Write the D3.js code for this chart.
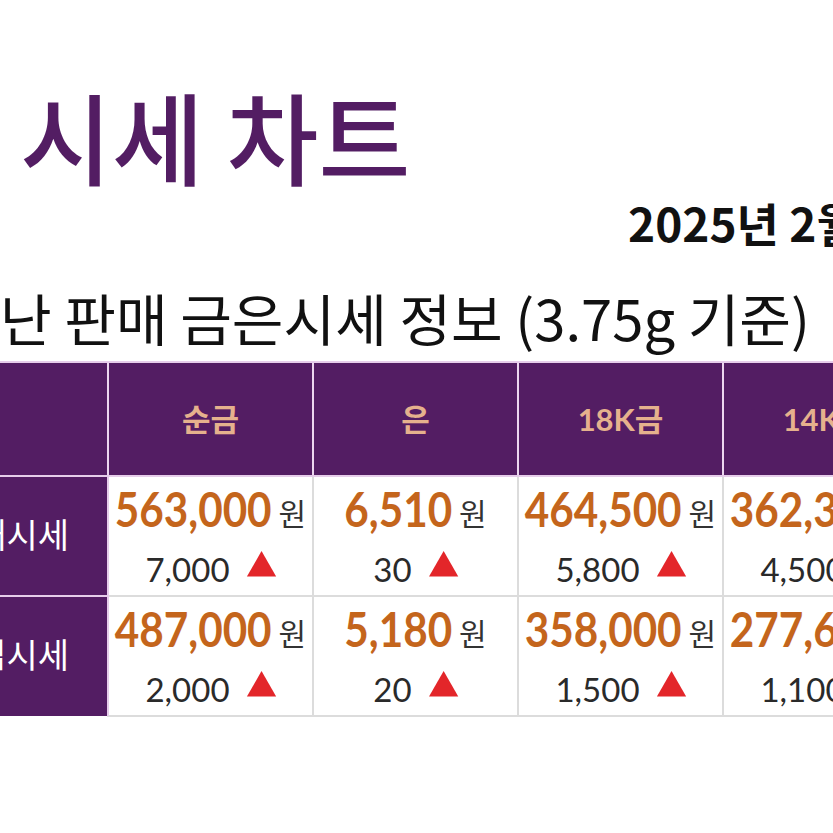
<!DOCTYPE html>
<html>
<head>
<meta charset="utf-8">
<script src="https://cdn.jsdelivr.net/npm/d3@7"></script>
<style>
  html, body { margin: 0; padding: 0; background: #fff; overflow: hidden; }
  svg { display: block; }
</style>
</head>
<body>
<script>
// data
var columns = ["순금", "은", "18K금", "14K금"];
var rowLabels = ["판매시세", "매입시세"];
var sellPrices = [563000, 6510, 464500, 362300];
var sellChanges = [7000, 30, 5800, 4500];
var buyPrices = [487000, 5180, 358000, 277600];
var buyChanges = [2000, 20, 1500, 1100];

var W = 833, H = 833;
var purple = "#531d63",
    orange = "#c4651c",
    peach = "#e5b18d";

var svg = d3.select("body").append("svg")
    .attr("width", W)
    .attr("height", H);

// titles
svg.append("text")
    .attr("x", 20).attr("y", 178)
    .attr("font-family", "'Noto Sans CJK KR'")
    .attr("font-weight", 500)
    .attr("font-size", 100)
    .attr("fill", purple)
    .text("시세 차트");

svg.append("text")
    .attr("x", 628).attr("y", 242)
    .attr("font-family", "'Noto Sans CJK KR'")
    .attr("font-weight", 700)
    .attr("font-size", 46)
    .attr("fill", "#111")
    .text("2025년 2월");

svg.append("text")
    .attr("x", 0).attr("y", 341)
    .attr("font-family", "'Noto Sans CJK KR'")
    .attr("font-weight", 400)
    .attr("font-size", 56)
    .attr("fill", "#111")
    .attr("textLength", 810)
    .attr("lengthAdjust", "spacingAndGlyphs")
    .text("난 판매 금은시세 정보 (3.75g 기준)");

// table scales
var x = d3.scaleBand().domain(columns).range([108, 108 + 205 * columns.length]);
var headTop = 363, headBottom = 476;
var y = d3.scaleBand().domain(rowLabels).range([headBottom, 716]);

var rows = [
    {label: rowLabels[0], prices: sellPrices, changes: sellChanges},
    {label: rowLabels[1], prices: buyPrices, changes: buyChanges}
];

// header background
svg.append("rect")
    .attr("x", 0).attr("y", headTop)
    .attr("width", W).attr("height", headBottom - headTop)
    .attr("fill", purple);
svg.append("line")
    .attr("x1", 0).attr("x2", W)
    .attr("y1", headTop - 1).attr("y2", headTop - 1)
    .attr("stroke", "#e6cdea").attr("stroke-width", 2);

// left label column
svg.append("rect")
    .attr("x", 0).attr("y", headBottom)
    .attr("width", x.range()[0]).attr("height", y.range()[1] - headBottom)
    .attr("fill", purple);

// body cell borders
rows.forEach(function(r) {
    svg.selectAll(null)
        .data(columns)
        .enter()
        .append("rect")
        .attr("x", function(d) { return x(d); })
        .attr("y", y(r.label))
        .attr("width", x.bandwidth())
        .attr("height", y.bandwidth())
        .attr("fill", "#fff")
        .attr("stroke", "#dcdcdc")
        .attr("stroke-width", 2);
});

// header separators
svg.selectAll(".hsep")
    .data(columns)
    .enter()
    .append("line")
    .attr("x1", function(d) { return x(d); })
    .attr("x2", function(d) { return x(d); })
    .attr("y1", headTop).attr("y2", headBottom)
    .attr("stroke", "#ecd6ef").attr("stroke-width", 2);
svg.append("line")
    .attr("x1", 0).attr("x2", W)
    .attr("y1", headBottom).attr("y2", headBottom)
    .attr("stroke", "#e6cdea").attr("stroke-width", 2);
svg.append("line")
    .attr("x1", 0).attr("x2", x.range()[0])
    .attr("y1", y(rowLabels[1])).attr("y2", y(rowLabels[1]))
    .attr("stroke", "#e6cdea").attr("stroke-width", 2);
svg.append("line")
    .attr("x1", x.range()[0]).attr("x2", x.range()[0])
    .attr("y1", headBottom).attr("y2", y.range()[1])
    .attr("stroke", "#e6cdea").attr("stroke-width", 2);

// header labels
svg.selectAll(".hlab")
    .data(columns)
    .enter()
    .append("text")
    .attr("x", function(d) { return x(d) + x.bandwidth() / 2; })
    .attr("y", (headTop + headBottom) / 2 + 11)
    .attr("text-anchor", "middle")
    .attr("font-family", "Lato, 'Noto Sans CJK KR'")
    .attr("font-weight", 700)
    .attr("font-size", 31)
    .attr("fill", peach)
    .text(function(d) { return d; });

// row labels
svg.selectAll(".rlab")
    .data(rowLabels)
    .enter()
    .append("text")
    .attr("x", 69)
    .attr("y", function(d) { return y(d) + y.bandwidth() / 2 + 12; })
    .attr("text-anchor", "end")
    .attr("font-family", "'Noto Sans CJK KR'")
    .attr("font-size", 34)
    .attr("fill", "#fff")
    .text(function(d) { return d; });

var fmt = d3.format(",");
var tri = d3.symbol().type(d3.symbolTriangle).size(370);
var squeeze = 0.88;

rows.forEach(function(r) {
    columns.forEach(function(c, i) {
        var cx = x(c) + x.bandwidth() / 2;
        var top = y(r.label);

        // price + unit (price a bit condensed)
        var g = svg.append("g");
        var ng = g.append("g").attr("transform", "scale(" + squeeze + ",1)");
        var num = ng.append("text")
            .attr("y", top + 51)
            .attr("font-family", "Lato")
            .attr("font-weight", 700)
            .attr("font-size", 48)
            .attr("fill", orange)
            .text(fmt(r.prices[i]));
        var nw = num.node().getComputedTextLength() * squeeze;
        var unit = g.append("text")
            .attr("x", nw + 7)
            .attr("y", top + 49)
            .attr("font-family", "'Noto Sans CJK KR'")
            .attr("font-size", 30)
            .attr("fill", "#333")
            .text("원");
        var uw = unit.node().getComputedTextLength();
        g.attr("transform", "translate(" + (cx - (nw + 7 + uw) / 2) + ",0)");

        // change + triangle
        var g2 = svg.append("g");
        var ch = g2.append("text")
            .attr("y", top + 106)
            .attr("font-family", "Lato")
            .attr("font-size", 33)
            .attr("fill", "#2a2a2a")
            .text(fmt(r.changes[i]));
        var cw = ch.node().getComputedTextLength();
        g2.append("path")
            .attr("d", tri)
            .attr("transform", "translate(" + (cw + 32) + "," + (top + 92) + ")")
            .attr("fill", "#e3262a");
        g2.attr("transform", "translate(" + (cx - (cw + 46) / 2) + ",0)");
    });
});
</script>
</body>
</html>
